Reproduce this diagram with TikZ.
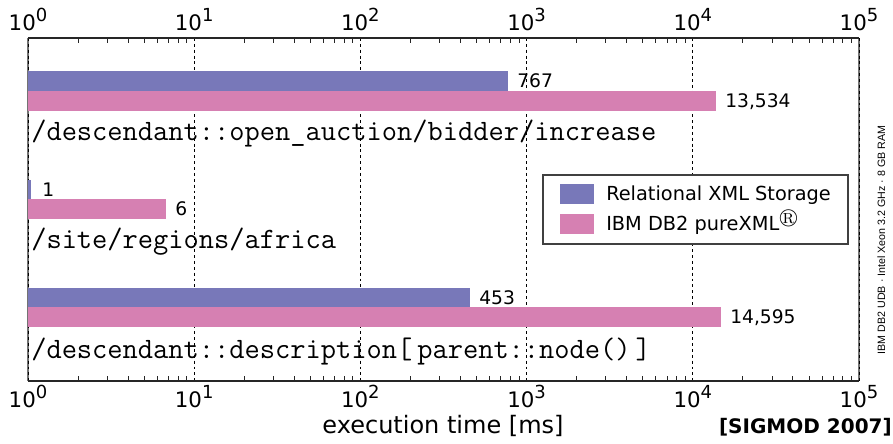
\documentclass[tikz,border=0pt]{standalone}
\usepackage{amssymb}
\usepackage{fontspec}
\setmainfont{DejaVu Sans}
\newfontfamily\vfont{Liberation Sans}
\definecolor{barblue}{RGB}{120,120,185}
\definecolor{barpink}{RGB}{214,128,178}
\newcommand\tenp[1]{10\raisebox{0.42em}{\fontsize{13.5}{14}\selectfont #1}}
\begin{document}
\begin{tikzpicture}[x=0.75pt,y=-0.75pt,
  gridln/.style={black, line width=0.75pt, dash pattern=on 2.2pt off 2.2pt},
  frameln/.style={black!55, line width=0.9pt},
  axisln/.style={black!85, line width=1.1pt},
  tickln/.style={black!85, line width=0.7pt},
  ticklab/.style={font=\fontsize{16}{19}\selectfont, inner sep=0, anchor=base},
  vallab/.style={font=\fontsize{14}{17}\selectfont, inner sep=0, anchor=base west},
  query/.style={font=\ttfamily\fontsize{22.2}{26}\selectfont, inner sep=0, anchor=base west},
  legtext/.style={font=\fontsize{14.5}{17}\selectfont, inner sep=0, anchor=base west}]
\useasboundingbox (0,0) rectangle (893,443);
% grid lines
\foreach \d in {1,...,4}{
  \draw[gridln] ({28+166.2*\d},38) -- ({28+166.2*\d},381);
}
% frame sides
\foreach \xx in {28,859}{
  \draw[frameln] (\xx,38) -- (\xx,381);
  \draw[gridln] (\xx,38) -- (\xx,381);
}
% query labels
\node[query] (q1) at (31,140) {/descendant::open\_auction/bidder/increase};
\node[query] (q2) at (31,248) {/site/regions/africa};
\node[query] (q3) at (31,358) {/descendant::description[\,parent::node()\,]};
% bars
\fill[barblue] (28,71) rectangle (508,91);
\fill[barpink] (28,91) rectangle (716,111);
\fill[barblue] (28,180) rectangle (31,199);
\fill[barpink] (28,199) rectangle (166,219);
\fill[barblue] (28,288) rectangle (470,307);
\fill[barpink] (28,307) rectangle (721,327);
% value labels
\node[vallab] (v1) at (517,87.5) {767};
\node[vallab] (v2) at (725,107.5) {13,534};
\node[vallab] (v3) at (42,196) {1};
\node[vallab] (v4) at (175,215.5) {6};
\node[vallab] (v5) at (479,304) {453};
\node[vallab] (v6) at (730,323.5) {14,595};
% legend
\filldraw[fill=white, draw=black!75, line width=0.9pt] (543,175) rectangle (848,244);
\fill[barblue] (560,184) rectangle (594,204);
\fill[barpink] (560,214) rectangle (594,234);
\node[legtext] (l1) at (606,200.5) {Relational XML Storage};
\node[legtext] (l2) at (606,230.5) {IBM DB2 pureXML$^{\circledR}$};
% axes
\draw[axisln] (28,38) -- (859,38);
\draw[axisln] (28,381) -- (859,381);
\foreach \d in {0,...,4}{
  \foreach \k in {2,...,9}{
    \pgfmathsetmacro\xx{28+166.2*(\d+log10(\k))}
    \draw[tickln] (\xx,38) -- (\xx,43);
    \draw[tickln] (\xx,381) -- (\xx,376);
  }
}
\foreach \d in {0,...,5}{
  \node[ticklab] (t\d) at ({28+166.2*\d},30) {\tenp{\d}};
  \node[ticklab] (b\d) at ({28+166.2*\d},407) {\tenp{\d}};
}
\node[font=\fontsize{18}{21}\selectfont, inner sep=0, anchor=base] (xl) at (443,433) {execution time [ms]};
\node[font=\bfseries\fontsize{15}{18}\selectfont, inner sep=0, anchor=base east] (src) at (892,433) {[SIGMOD 2007]};
\node[rotate=90, font=\vfont\fontsize{8}{9}\selectfont, inner sep=0, anchor=base] (hw) at (885,240) {IBM DB2 UDB · Intel Xeon 3.2 GHz · 8 GB RAM};
\end{tikzpicture}
\end{document}
